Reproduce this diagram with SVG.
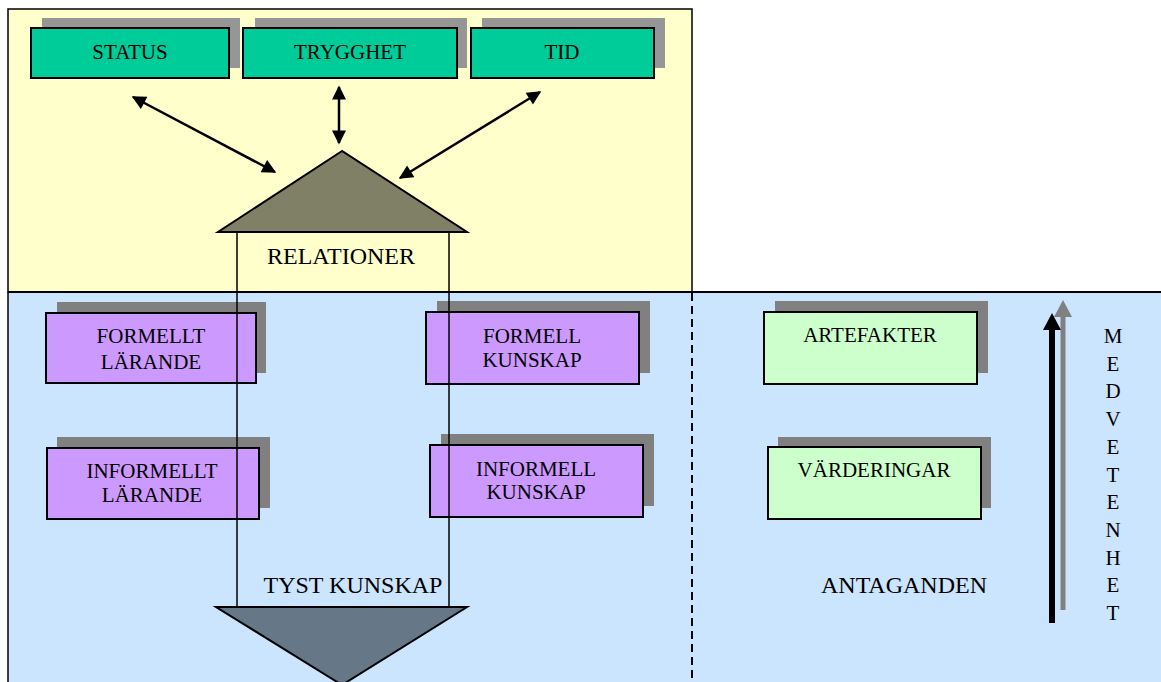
<svg xmlns="http://www.w3.org/2000/svg" width="1161" height="682" viewBox="0 0 1161 682">
  <style>
    .lbl { font-family: "Liberation Serif", "Times New Roman", serif; fill: #000; text-anchor: middle; }
    .box { font-size: 21px; }
    .big { font-size: 24px; }
    .shadow-light { fill: #969696; }
    .shadow { fill: #808080; }
    .green { fill: #00CC99; stroke: #000; stroke-width: 2; }
    .purple { fill: #CC99FF; stroke: #000; stroke-width: 2; }
    .mint { fill: #CCFFCC; stroke: #000; stroke-width: 2; }
    .conn { stroke: #000; stroke-width: 2.5; fill: none; }
    .post { stroke: #000; stroke-width: 1.5; }
  </style>
  <defs>
    <marker id="head" viewBox="0 0 10 10" refX="9" refY="5" markerWidth="6.4" markerHeight="5.6" markerUnits="strokeWidth" orient="auto-start-reverse">
      <path d="M0,0 L10,5 L0,10 Z" fill="#000"/>
    </marker>
  </defs>

  <rect width="1161" height="682" fill="#fff"/>

  <!-- upper and lower zones -->
  <g id="zones">
    <rect x="8" y="9" width="684" height="283" fill="#FFFFCC" stroke="#000" stroke-width="1.5"/>
    <rect x="8" y="292" width="1160" height="400" fill="#CCE5FF"/>
    <line x1="8" y1="292" x2="1161" y2="292" stroke="#000" stroke-width="2"/>
    <line x1="8" y1="292" x2="8" y2="682" stroke="#000" stroke-width="1.5"/>
    <line x1="692" y1="293" x2="692" y2="682" stroke="#000" stroke-width="2" stroke-dasharray="8,5"/>
  </g>

  <!-- top row -->
  <g id="status">
    <rect class="shadow-light" x="42" y="18" width="198" height="50"/>
    <rect class="green" x="31" y="28" width="198" height="50"/>
    <text class="lbl box" x="130" y="59">STATUS</text>
  </g>
  <g id="trygghet">
    <rect class="shadow-light" x="255" y="18" width="212" height="50"/>
    <rect class="green" x="243" y="28" width="214" height="50"/>
    <text class="lbl box" x="350" y="59">TRYGGHET</text>
  </g>
  <g id="tid">
    <rect class="shadow-light" x="482" y="18" width="183" height="50"/>
    <rect class="green" x="471" y="28" width="183" height="50"/>
    <text class="lbl box" x="562" y="59">TID</text>
  </g>

  <!-- left column -->
  <g id="formellt-larande">
    <rect class="shadow" x="57" y="302" width="209" height="71"/>
    <rect class="purple" x="46" y="313" width="210" height="70"/>
    <text class="lbl box" x="151" y="343">FORMELLT</text>
    <text class="lbl box" x="151" y="369">LÄRANDE</text>
  </g>
  <g id="formell-kunskap">
    <rect class="shadow" x="437" y="301" width="213" height="72"/>
    <rect class="purple" x="426" y="312" width="213" height="72"/>
    <text class="lbl box" x="532" y="343">FORMELL</text>
    <text class="lbl box" x="532" y="367">KUNSKAP</text>
  </g>
  <g id="informellt-larande">
    <rect class="shadow" x="57" y="437" width="213" height="71"/>
    <rect class="purple" x="47" y="448" width="212" height="71"/>
    <text class="lbl box" x="152" y="478">INFORMELLT</text>
    <text class="lbl box" x="152" y="502">LÄRANDE</text>
  </g>
  <g id="informell-kunskap">
    <rect class="shadow" x="441" y="434" width="213" height="72"/>
    <rect class="purple" x="430" y="445" width="213" height="72"/>
    <text class="lbl box" x="536" y="476">INFORMELL</text>
    <text class="lbl box" x="536" y="499">KUNSKAP</text>
  </g>

  <!-- right column -->
  <g id="artefakter">
    <rect class="shadow" x="775" y="301" width="213" height="72"/>
    <rect class="mint" x="764" y="312" width="213" height="72"/>
    <text class="lbl box" x="870" y="342">ARTEFAKTER</text>
  </g>
  <g id="varderingar">
    <rect class="shadow" x="778" y="437" width="213" height="71"/>
    <rect class="mint" x="768" y="447" width="213" height="72"/>
    <text class="lbl box" x="874" y="477">VÄRDERINGAR</text>
  </g>

  <!-- relations roof, posts and the tacit-knowledge point -->
  <g id="relationer">
    <polygon points="342,151 218,232 467,232" fill="#808066" stroke="#000" stroke-width="2" stroke-linejoin="miter"/>
    <text class="lbl big" x="341" y="264">RELATIONER</text>
  </g>
  <g id="tyst-kunskap">
    <polygon points="216,607 467,607 342,685" fill="#667788" stroke="#000" stroke-width="2"/>
    <text class="lbl big" x="353" y="593">TYST KUNSKAP</text>
  </g>
  <g id="antaganden">
    <text class="lbl big" x="904" y="593">ANTAGANDEN</text>
  </g>

  <!-- awareness scale -->
  <g id="medvetenhet">
    <line x1="1063" y1="610" x2="1063" y2="315" stroke="#808080" stroke-width="5"/>
    <polygon points="1063,300 1072,317 1054,317" fill="#808080"/>
    <line x1="1052" y1="623" x2="1052" y2="328" stroke="#000" stroke-width="6"/>
    <polygon points="1052,313 1061,330 1043,330" fill="#000"/>
    <g class="lbl box">
      <text x="1113" y="343">M</text>
      <text x="1113" y="371">E</text>
      <text x="1113" y="398">D</text>
      <text x="1113" y="426">V</text>
      <text x="1113" y="454">E</text>
      <text x="1113" y="482">T</text>
      <text x="1113" y="509">E</text>
      <text x="1113" y="537">N</text>
      <text x="1113" y="565">H</text>
      <text x="1113" y="592">E</text>
      <text x="1113" y="620">T</text>
    </g>
  </g>

  <!-- connectors -->
  <g id="connectors">
    <line class="post" x1="237" y1="232" x2="237" y2="607"/>
    <line class="post" x1="449" y1="232" x2="449" y2="607"/>
    <line class="conn" x1="133" y1="97" x2="275" y2="172" marker-start="url(#head)" marker-end="url(#head)"/>
    <line class="conn" x1="339" y1="87" x2="339" y2="143" marker-start="url(#head)" marker-end="url(#head)"/>
    <line class="conn" x1="540" y1="92" x2="400" y2="178" marker-start="url(#head)" marker-end="url(#head)"/>
  </g>
</svg>
